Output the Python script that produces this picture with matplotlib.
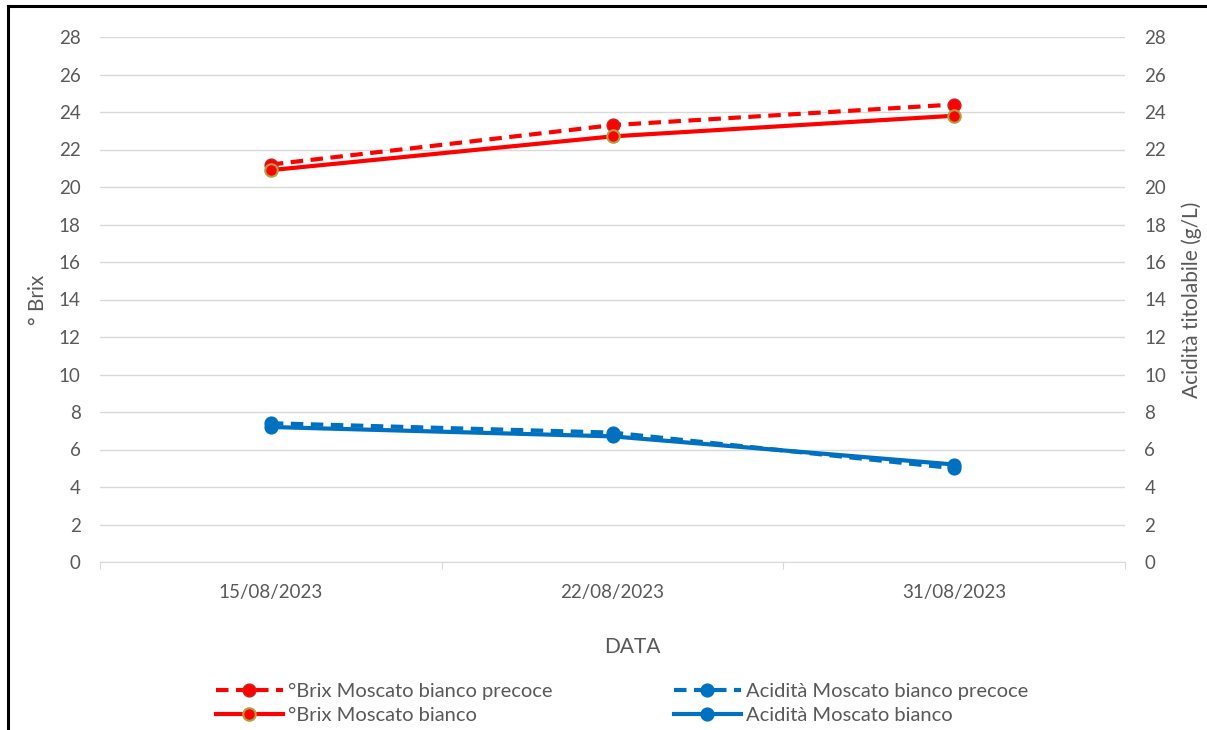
import matplotlib
matplotlib.use("Agg")
import matplotlib.pyplot as plt
from matplotlib.lines import Line2D

dates = ["15/08/2023", "22/08/2023", "31/08/2023"]
brix_precoce = [21.2, 23.3, 24.4]
brix_bianco = [20.9, 22.7, 23.8]
acid_precoce = [7.4, 6.9, 5.0]
acid_bianco = [7.2, 6.7, 5.2]
yticks = list(range(0, 29, 2))

plt.rcParams['font.family'] = ['Lato', 'DejaVu Sans']
FS = 13.5
FT = 15
FL = 14.5
GRAY = "#595959"
RED = "#ff0000"
BLUE = "#0070c0"

fig = plt.figure(figsize=(12.07, 7.30), dpi=100)
ax = fig.add_axes([100/1207, 1-562/730, 1025/1207, 525/730])
ax2 = ax.twinx()

x = list(range(len(dates)))
l1, = ax.plot(x, brix_precoce, color=RED, lw=3, ls=(0, (3, 1.8)), marker='o',
              ms=9, mfc=RED, mec="#d02020", mew=1.2, label="°Brix Moscato bianco precoce", zorder=3)
l2, = ax.plot(x, brix_bianco, color=RED, lw=3, ls='-', marker='o',
              ms=9, mfc=RED, mec="#b0a040", mew=1.5, label="°Brix Moscato bianco", zorder=4)
l3, = ax2.plot(x, acid_precoce, color=BLUE, lw=3, ls=(0, (3, 1.8)), marker='o',
               ms=9, mfc=BLUE, mec=BLUE, mew=1.2, label="Acidità Moscato bianco precoce", zorder=3)
l4, = ax2.plot(x, acid_bianco, color=BLUE, lw=3, ls='-', marker='o',
               ms=9, mfc=BLUE, mec=BLUE, mew=1.2, label="Acidità Moscato bianco", zorder=4)

for a in (ax, ax2):
    a.set_ylim(0, 28)
    a.set_yticks(yticks)
    a.set_xlim(-0.5, 2.5)
    for s in a.spines.values():
        s.set_visible(False)
    a.tick_params(axis='y', length=0, labelsize=FS, labelcolor=GRAY, pad=14)

ax.yaxis.grid(True, color="#d9d9d9", lw=1)
ax.set_axisbelow(True)
ax.spines['bottom'].set_visible(True)
ax.spines['bottom'].set_color("#d9d9d9")
ax.set_xticks([-0.5, 0.5, 1.5, 2.5])
ax.set_xticklabels([])
ax.set_xticks(x, minor=True)
ax.set_xticklabels(dates, minor=True)
ax.tick_params(axis='x', which='major', length=5, color="#d9d9d9", direction='out')
ax.tick_params(axis='x', which='minor', length=0, labelsize=FS, labelcolor=GRAY, pad=16)

ax.set_ylabel("° Brix", fontsize=FT, color=GRAY, labelpad=8)
ax2.set_ylabel("Acidità titolabile (g/L)", fontsize=FT, color=GRAY, labelpad=11)
ax.set_xlabel("DATA", fontsize=FT, color=GRAY)
ax.xaxis.set_label_coords((632-100)/1025, -(647-562)/525, transform=ax.transAxes)
ax.xaxis.label.set_va('center')

leg = fig.legend(handles=[l1, l2, l3, l4], ncol=2, loc='center', bbox_to_anchor=(622/1207, 1-703.5/730),
                 frameon=False, fontsize=FL, handlelength=3.35, handletextpad=0.25, columnspacing=6.0,
                 labelspacing=0.3, labelcolor=GRAY)

fig.add_artist(Line2D([8/1207, 8/1207], [0, 1-6/730], color='black', lw=2.2, transform=fig.transFigure))
fig.add_artist(Line2D([8/1207, 1], [1-6/730, 1-6/730], color='black', lw=2.2, transform=fig.transFigure))

fig.savefig("out.png", dpi=100)
